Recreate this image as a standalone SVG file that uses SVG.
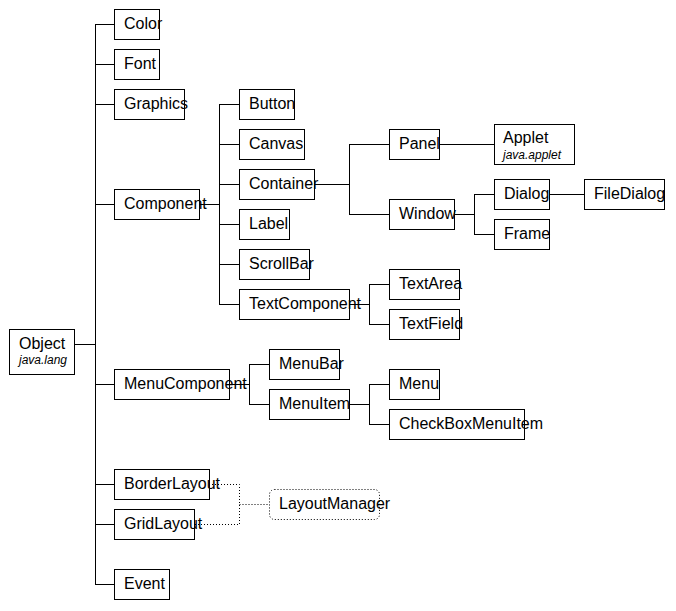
<svg xmlns="http://www.w3.org/2000/svg" width="676" height="611" viewBox="0 0 676 611">
<style>
.n rect{fill:#fff;stroke:#000;stroke-width:1}
.n text{font-family:"Liberation Sans",Arial,sans-serif;font-size:16px;fill:#000}
.n text.pk{font-style:italic;font-size:12px}
.n.dot rect{stroke-dasharray:1 2}
#edges path{fill:none;stroke:#000;stroke-width:1}
#edges path.dot{stroke-dasharray:1 2}
</style>
<rect width="676" height="611" fill="#fff"/>
<g id="edges">
<path d="M95.5 24V584.5"/>
<path d="M95 24.5H114M95 64.5H114M95 104.5H114M95 204.5H114M95 384.5H114M95 484.5H114M95 524.5H114M95 584.5H114"/>
<path d="M74 344.5H95"/>
<path d="M199 204.5H219.5M219.5 104V304.5M219 104.5H239M219 144.5H239M219 184.5H239M219 224.5H239M219 264.5H239M219 304.5H239"/>
<path d="M314 184.5H349.5M349.5 144V214.5M349 144.5H389M349 214.5H389"/>
<path d="M439 144.5H494"/>
<path d="M454 214.5H474.5M474.5 194V234.5M474 194.5H494M474 234.5H494"/>
<path d="M549 194.5H584"/>
<path d="M349 304.5H369.5M369.5 284V324.5M369 284.5H389M369 324.5H389"/>
<path d="M229 384.5H249.5M249.5 364V404.5M249 364.5H269M249 404.5H269"/>
<path d="M349 404.5H369.5M369.5 384V424.5M369 384.5H389M369 424.5H389"/>
<path class="dot" d="M209 484.5H239.5V524.5H194M239.5 504.5H269"/>
</g>
<g id="object" class="n"><rect x="9.5" y="329.5" width="65" height="45"/><text x="19" y="349">Object</text><text class="pk" x="19" y="364">java.lang</text></g>
<g id="color" class="n"><rect x="114.5" y="9.5" width="45" height="30"/><text x="124" y="29">Color</text></g>
<g id="font" class="n"><rect x="114.5" y="49.5" width="45" height="30"/><text x="124" y="69">Font</text></g>
<g id="graphics" class="n"><rect x="114.5" y="89.5" width="70" height="30"/><text x="124" y="109">Graphics</text></g>
<g id="component" class="n"><rect x="114.5" y="189.5" width="85" height="30"/><text x="124" y="209">Component</text></g>
<g id="menucomponent" class="n"><rect x="114.5" y="369.5" width="115" height="30"/><text x="124" y="389">MenuComponent</text></g>
<g id="borderlayout" class="n"><rect x="114.5" y="469.5" width="95" height="30"/><text x="124" y="489">BorderLayout</text></g>
<g id="gridlayout" class="n"><rect x="114.5" y="509.5" width="80" height="30"/><text x="124" y="529">GridLayout</text></g>
<g id="event" class="n"><rect x="114.5" y="569.5" width="55" height="30"/><text x="124" y="589">Event</text></g>
<g id="button" class="n"><rect x="239.5" y="89.5" width="55" height="30"/><text x="249" y="109">Button</text></g>
<g id="canvas" class="n"><rect x="239.5" y="129.5" width="65" height="30"/><text x="249" y="149">Canvas</text></g>
<g id="container" class="n"><rect x="239.5" y="169.5" width="75" height="30"/><text x="249" y="189">Container</text></g>
<g id="label" class="n"><rect x="239.5" y="209.5" width="50" height="30"/><text x="249" y="229">Label</text></g>
<g id="scrollbar" class="n"><rect x="239.5" y="249.5" width="70" height="30"/><text x="249" y="269">ScrollBar</text></g>
<g id="textcomponent" class="n"><rect x="239.5" y="289.5" width="110" height="30"/><text x="249" y="309">TextComponent</text></g>
<g id="panel" class="n"><rect x="389.5" y="129.5" width="50" height="30"/><text x="399" y="149">Panel</text></g>
<g id="applet" class="n"><rect x="494.5" y="124.5" width="80" height="40"/><text x="503" y="143">Applet</text><text class="pk" x="503" y="159">java.applet</text></g>
<g id="window" class="n"><rect x="389.5" y="199.5" width="65" height="30"/><text x="399" y="219">Window</text></g>
<g id="dialog" class="n"><rect x="494.5" y="179.5" width="55" height="30"/><text x="504" y="199">Dialog</text></g>
<g id="frame" class="n"><rect x="494.5" y="219.5" width="55" height="30"/><text x="504" y="239">Frame</text></g>
<g id="filedialog" class="n"><rect x="584.5" y="179.5" width="80" height="30"/><text x="594" y="199">FileDialog</text></g>
<g id="textarea" class="n"><rect x="389.5" y="269.5" width="70" height="30"/><text x="399" y="289">TextArea</text></g>
<g id="textfield" class="n"><rect x="389.5" y="309.5" width="70" height="30"/><text x="399" y="329">TextField</text></g>
<g id="menubar" class="n"><rect x="269.5" y="349.5" width="70" height="30"/><text x="279" y="369">MenuBar</text></g>
<g id="menuitem" class="n"><rect x="269.5" y="389.5" width="80" height="30"/><text x="279" y="409">MenuItem</text></g>
<g id="menu" class="n"><rect x="389.5" y="369.5" width="50" height="30"/><text x="399" y="389">Menu</text></g>
<g id="checkboxmenuitem" class="n"><rect x="389.5" y="409.5" width="135" height="30"/><text x="399" y="429">CheckBoxMenuItem</text></g>
<g id="layoutmanager" class="n dot"><rect x="269.5" y="489.5" width="110" height="30" rx="5"/><text x="279" y="509">LayoutManager</text></g>
</svg>
